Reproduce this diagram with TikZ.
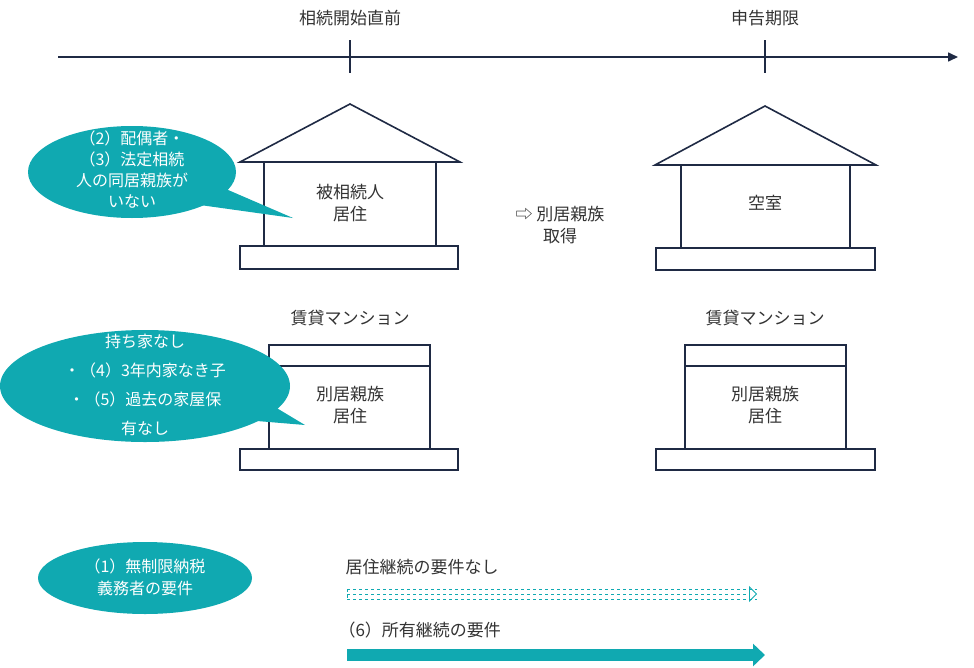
\documentclass[tikz,border=0pt]{standalone}
\usepackage{fontspec}
\setmainfont{Noto Sans CJK JP}
\usetikzlibrary{arrows.meta,shapes.geometric}
\definecolor{navy}{HTML}{1F2A44}
\definecolor{teal2}{HTML}{10A9B1}
\definecolor{txt}{HTML}{333333}
\tikzset{
  ln/.style={draw=navy,line width=1.6pt},
  lbl/.style={font=\fontsize{17}{22}\selectfont,text=txt,align=center},
  bub/.style={fill=teal2,draw=none},
  btxt/.style={font=\fontsize{16}{25}\selectfont,text=white,align=center},
}
\begin{document}
\begin{tikzpicture}[x=1pt,y=-1pt]
\useasboundingbox (0,0) rectangle (974,667);
% timeline
\coordinate (ts) at (58,57); \coordinate (te) at (958,57);
\draw[ln,-{Triangle[length=10pt,width=9pt]}] (ts) -- (te);
\draw[ln] (350,40) -- (350,73);
\draw[ln] (765,40) -- (765,73);
\node[lbl] (t1) at (350,18) {相続開始直前};
\node[lbl] (t2) at (765,18) {申告期限};
% house 1
\draw[ln] (240,162) -- (350,104) -- (460,162) -- cycle;
\draw[ln,fill=white] (264,162) rectangle (436,246);
\draw[ln] (240,246) rectangle (458,269);
\node[lbl] (h1) at (350,203) {被相続人\\居住};
% house 2
\draw[ln] (655,165) -- (765,106) -- (876,165) -- cycle;
\draw[ln,fill=white] (681,165) rectangle (850,248);
\draw[ln] (656,248) rectangle (875,270);
\node[lbl] (h2) at (765,203) {空室};
\node[lbl] (mid) at (560,225) {⇨ 別居親族\\取得};
% apartments
\node[lbl] (m1) at (350,318) {賃貸マンション};
\node[lbl] (m2) at (765,318) {賃貸マンション};
\draw[ln] (269,345) rectangle (430,366);
\draw[ln] (269,366) rectangle (430,449);
\draw[ln] (240,449) rectangle (458,470);
\node[lbl] (a1) at (350,405) {別居親族\\居住};
\draw[ln] (685,345) rectangle (846,366);
\draw[ln] (685,366) rectangle (846,449);
\draw[ln] (656,449) rectangle (875,470);
\node[lbl] (a2) at (765,405) {別居親族\\居住};
% callouts
\fill[bub] (132,172) ellipse [x radius=104, y radius=46];
\fill[bub] (205,180) -- (293,218) -- (200,205) -- cycle;
\node[btxt,font=\fontsize{16}{21}\selectfont] (c1) at (132,170) {（2）配偶者・\\（3）法定相続\\人の同居親族が\\いない};
\fill[bub] (145,386) ellipse [x radius=145, y radius=56];
\fill[bub] (255,395) -- (305,425) -- (245,420) -- cycle;
\node[btxt,font=\fontsize{16}{29}\selectfont] (c2) at (145,385) {持ち家なし\\・（4）3年内家なき子\\・（5）過去の家屋保\\\rlap{\hphantom{・（5）}}有なし};
\fill[bub] (145,578) ellipse [x radius=107, y radius=36];
\node[btxt,font=\fontsize{16}{22}\selectfont] (c3) at (145,577) {（1）無制限納税\\義務者の要件};
% requirement arrows
\node[lbl,anchor=west] (r1) at (342,567) {居住継続の要件なし};
\coordinate (d1) at (347,594); \coordinate (d2) at (765,594);
\draw[teal2,dashed,line width=0.8pt,-{Triangle[open,length=8pt,width=16pt]}] (d1) -- ++(410,0) coordinate (d3);
\draw[teal2,dashed,line width=0.8pt] (347,589) -- (757,589) (347,599) -- (757,599) (347,589) -- (347,599);
\node[lbl,anchor=west] (r2) at (335,630) {（6）所有継続の要件};
\coordinate (s1) at (347,655); \coordinate (s2) at (765,655);
\draw[teal2,line width=12pt,-{Triangle[length=12pt,width=22pt]}] (s1) -- (s2);
\end{tikzpicture}
\end{document}
